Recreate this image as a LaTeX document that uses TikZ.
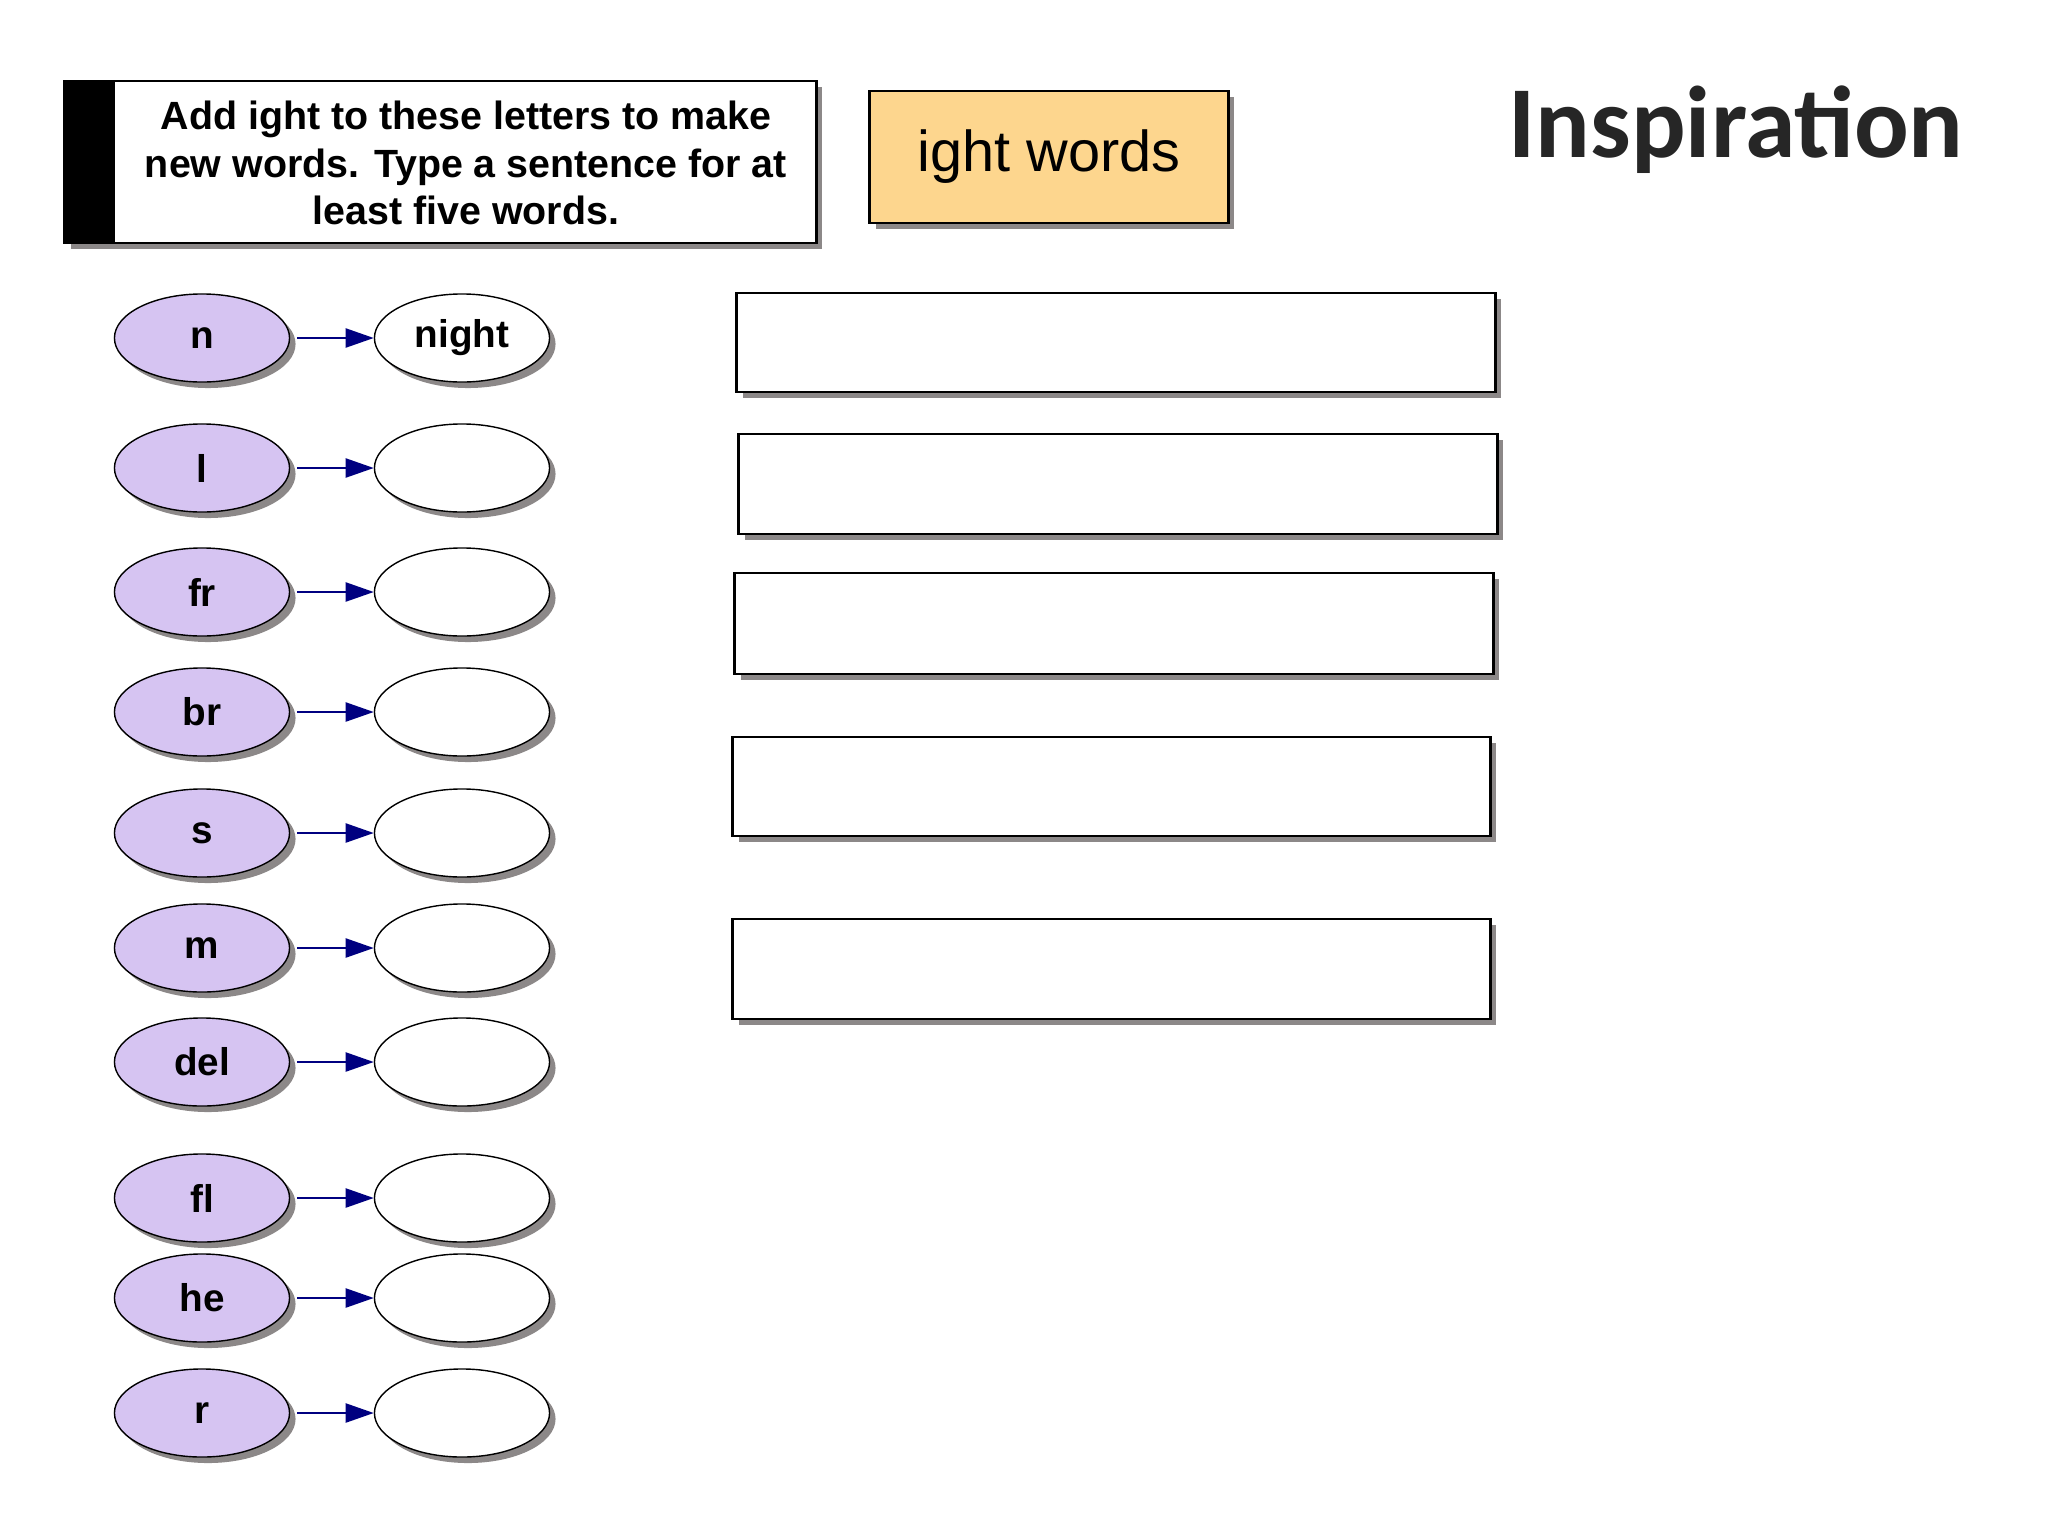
\documentclass[tikz,border=0pt]{standalone}
\usepackage{fontspec}
\setmainfont{Liberation Sans}
\newfontfamily\titlefont{Carlito}
\usetikzlibrary{shapes.geometric,shadows,arrows.meta}

\definecolor{lilac}{RGB}{214,196,242}
\definecolor{sand}{RGB}{253,214,142}
\definecolor{shade}{RGB}{140,136,136}
\definecolor{navy}{RGB}{0,0,128}

\tikzset{
  dropgray/.style = {drop shadow={shadow xshift=0.06cm,shadow yshift=-0.06cm,fill=shade,opacity=1}},
  letter/.style   = {ellipse, draw, fill=lilac, dropgray, minimum width=1.75cm,
                     minimum height=0.88cm, inner sep=0pt, font=\bfseries\fontsize{11}{13}\selectfont},
  word/.style     = {letter, fill=white},
  answer/.style   = {rectangle, draw, thick, fill=white, dropgray},
  link/.style     = {-{Triangle[length=0.28cm,width=0.19cm]}, navy, semithick, shorten <=2pt},
}

\begin{document}
\begin{tikzpicture}[x=0.01cm,y=-0.01cm]
\useasboundingbox[fill=white] (0,0) rectangle (2048,1536);
% la consigne
\node[rectangle, draw, thick, fill=white, dropgray,
      minimum width=7.51cm, minimum height=1.62cm] (task) at (440.5,162) {};
\fill (task.south west) rectangle ([xshift=0.52cm]task.north west);
\node[align=center, font=\bfseries\fontsize{11.2}{13.4}\selectfont] (tasktext) at (466,163)
  {Add ight to these letters to make\\new words. Type a sentence for at\\least five words.};
% le titre
\node[rectangle, draw, thick, fill=sand, dropgray,
      minimum width=3.58cm, minimum height=1.32cm,
      font=\fontsize{16.4}{19}\selectfont] (family) at (1049,157) {\raisebox{-4pt}{ight words}};
\node[font=\titlefont\bfseries\fontsize{29}{34}\selectfont, text=black!85] (brand) at (1736,130) {Inspiration};
% les mots
\foreach \lab/\y/\res [count=\i] in {n/338/night, l/468/, fr/592/, br/712/, s/833/,
                                     m/948/, del/1062/, fl/1198/, he/1298/, r/1413/}
{
  \node[letter] (let\i) at (202,\y) {\raisebox{-1pt}{\lab}};
  \node[word]   (wrd\i) at (462,\y) {\raisebox{-1pt}{\res}};
  \draw[link] (let\i) -- (wrd\i);
}
% les phrases
\node[answer, minimum width=7.58cm, minimum height=0.99cm] (sent1) at (1116,342.5) {};
\node[answer, minimum width=7.58cm, minimum height=1.00cm] (sent2) at (1118,484) {};
\node[answer, minimum width=7.58cm, minimum height=1.01cm] (sent3) at (1114,623.5) {};
\node[answer, minimum width=7.57cm, minimum height=0.99cm] (sent4) at (1111.5,786.5) {};
\node[answer, minimum width=7.57cm, minimum height=1.00cm] (sent5) at (1111.5,969) {};
\end{tikzpicture}
\end{document}
